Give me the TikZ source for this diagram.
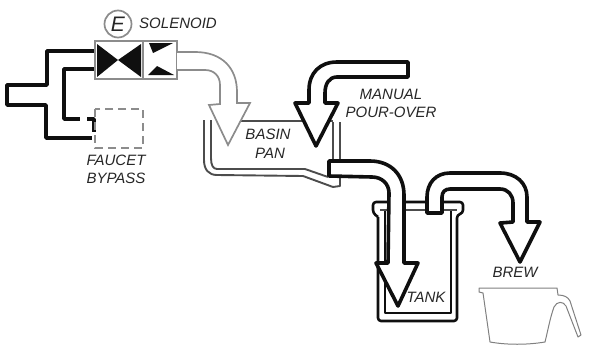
\documentclass[tikz,border=0pt]{standalone}
\usepackage{fontspec}
\setmainfont{Liberation Sans}
\definecolor{pipegray}{gray}{0.55}
\definecolor{inkblack}{gray}{0.06}
\tikzset{
  lbl/.style={font=\fontsize{15}{15}\selectfont\itshape, text=black!85, inner sep=0pt},
  heavy/.style={draw=inkblack, line width=3.6pt, line join=round},
  heavyfill/.style={heavy, fill=white},
  graybox/.style={draw=pipegray, line width=1.7pt},
  wall/.style={draw=black!70, line width=1.9pt, line join=round},
  tankwall/.style={draw=inkblack, line width=2.6pt, line join=round},
  jug/.style={draw=black!50, line width=1pt, line join=round}
}
\begin{document}
\begin{tikzpicture}[x=1pt,y=-1pt]
\useasboundingbox (0,0) rectangle (589,348);

% water supply lines
\draw[heavy] (95,51) -- (47,51) -- (47,85) -- (7,85) -- (7,105) -- (46,105) -- (46,138) -- (92,138);
\draw[heavy] (95,69) -- (64,69) -- (64,119) -- (80,119);
\draw[heavy] (87,119) -- (94,119) -- (94,132);

% bypass faucet
\draw[graybox, dash pattern=on 8pt off 5pt] (95,109) rectangle (143,148);

% solenoid valve
\node[draw=pipegray, line width=1.7pt, circle, minimum size=27pt, inner sep=0pt, font=\fontsize{21}{21}\selectfont\itshape, text=black!85] (coil) at (118,24) {E};
\node[graybox, fill=white, minimum width=48pt, minimum height=38pt, inner sep=0pt] (valveA) at (119,60) {};
\node[graybox, fill=white, minimum width=34pt, minimum height=38pt, inner sep=0pt] (valveB) at (160,60) {};
\fill[inkblack] (97,44) -- (97,77) -- (118,60) -- (141,44) -- (141,77) -- (118,60) -- cycle;
\fill[inkblack] (149,43) -- (173,43) -- (153,53) -- cycle;
\fill[inkblack] (148,75) -- (174,75) -- (157,66) -- cycle;

% basin pan
\draw[wall] (240,121) -- (333,121);
\draw[wall] (204,120) -- (204,160) .. controls (204,170) and (209,175) .. (217,175) -- (303,176) -- (333,187) -- (340,186) -- (340,122);
\draw[wall] (211,120) -- (211,158) .. controls (211,165) and (213,169) .. (217,169) -- (305,169) -- (328,177);
\draw[wall] (333,122) -- (333,160);

% flow from the solenoid into the pan
\draw[graybox, fill=white, line join=miter]
  (177,52) -- (195,52) .. controls (222,52) and (237,68) .. (237,92) -- (237,103) -- (250,103)
  -- (228,145) -- (209,105) -- (220,104) -- (220,85) .. controls (220,76) and (214,70) .. (205,70) -- (177,70);

% manual pour-over flow
\draw[heavyfill]
  (408,62) -- (337,62) .. controls (320,62) and (309,73) .. (309,90) -- (309,103) -- (295,103)
  -- (316,146) -- (338,103) -- (325,103) -- (325,93) .. controls (325,84) and (329,77) .. (337,77) -- (408,77) -- cycle;

% tank
\draw[tankwall, rounded corners=3pt]
  (378,217) -- (378,321) -- (457,321) -- (457,215) -- (463,213) -- (463,202) -- (373,202) -- (373,213) -- (378,217);
\draw[tankwall] (385,210) -- (385,313) -- (451,313) -- (451,210);
\draw[wall] (380,210) -- (457,210);

% flow from the pan into the tank
\draw[heavyfill]
  (329,161) -- (370,161) .. controls (391,161) and (404,175) .. (404,195) -- (404,263) -- (418,263)
  -- (398,306) -- (376,263) -- (388,263) -- (389,193) .. controls (389,184) and (382,177) .. (372,177) -- (329,176) -- cycle;

% flow from the tank to the brew jug
\draw[heavyfill]
  (427,213) -- (427,197) .. controls (427,183) and (436,173) .. (450,173) -- (500,173)
  .. controls (516,173) and (527,183) .. (527,197) -- (527,222) -- (540,222) -- (520,262)
  -- (500,223) -- (513,222) -- (513,203) .. controls (513,195) and (508,189) .. (500,189)
  -- (450,189) .. controls (445,189) and (442,192) .. (442,197) -- (442,213) -- cycle;

% jug
\draw[jug]
  (479,288) -- (557,288) -- (558,295) .. controls (564,295) and (568,297) .. (570,301)
  -- (581,335) -- (578,337) -- (566,306) .. controls (563,301) and (557,301) .. (554,307)
  .. controls (550,318) and (548,330) .. (545,342) .. controls (527,345) and (507,345) .. (490,342)
  -- (483,293) -- (479,292) -- cycle;

% labels
\node[lbl] (solenoidlabel) at (178,23) {SOLENOID};
\node[lbl] (faucetlabel) at (116,160) {FAUCET};
\node[lbl] (bypasslabel) at (116,178) {BYPASS};
\node[lbl] (basinlabel) at (268,134) {BASIN};
\node[lbl] (panlabel) at (270,153) {PAN};
\node[lbl] (manuallabel) at (391,94) {MANUAL};
\node[lbl] (pourlabel) at (391,112) {POUR-OVER};
\node[lbl] (tanklabel) at (426,297) {TANK};
\node[lbl] (brewlabel) at (515,272) {BREW};
\end{tikzpicture}
\end{document}
